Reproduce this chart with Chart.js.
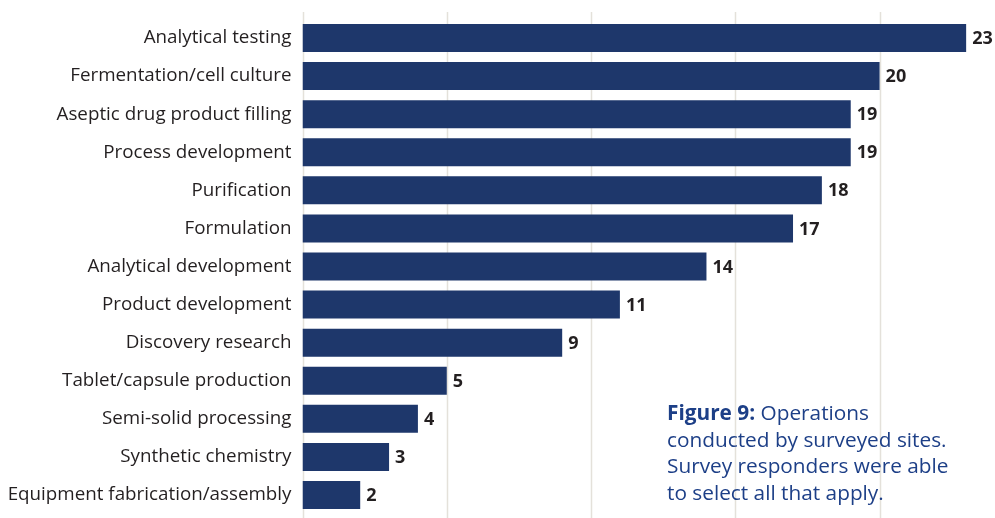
<!DOCTYPE html>
<html>
<head>
<meta charset="utf-8">
<script src="https://cdn.jsdelivr.net/npm/chart.js@4/dist/chart.umd.min.js"></script>
<style>
  html, body { margin: 0; padding: 0; background: #fff; }
  #wrap { position: relative; width: 995px; height: 518px; }
  #caption {
    position: absolute; left: 667px; top: 399px; width: 328px;
    font-family: "Open Sans", "Noto Sans", sans-serif; font-size: 20.8px; line-height: 26.7px;
    color: #1d3f87; white-space: nowrap;
  }
  #caption b { font-weight: 700; }
</style>
</head>
<body>
<div id="wrap">
  <canvas id="c" width="995" height="518"></canvas>
  <div id="caption"><b>Figure 9:</b> Operations<br>conducted by surveyed sites.<br>Survey responders were able<br>to select all that apply.</div>
</div>
<script>
const categories = [
  "Analytical testing",
  "Fermentation/cell culture",
  "Aseptic drug product filling",
  "Process development",
  "Purification",
  "Formulation",
  "Analytical development",
  "Product development",
  "Discovery research",
  "Tablet/capsule production",
  "Semi-solid processing",
  "Synthetic chemistry",
  "Equipment fabrication/assembly"
];
const siteCounts = [23, 20, 19, 19, 18, 17, 14, 11, 9, 5, 4, 3, 2];
const gridValues = [0, 5, 10, 15, 20];

const FONT = '"Open Sans", "Noto Sans", sans-serif';

// Vertical guide lines spanning nearly the full height
const gridPlugin = {
  id: 'fullGrid',
  beforeDatasetsDraw(chart) {
    const ctx = chart.ctx;
    const x = chart.scales.x;
    ctx.save();
    ctx.strokeStyle = '#e4e1da';
    ctx.lineWidth = 1.5;
    gridValues.forEach(v => {
      const px = Math.round(x.getPixelForValue(v)) + 0.5;
      ctx.beginPath();
      ctx.moveTo(px, 12);
      ctx.lineTo(px, chart.height);
      ctx.stroke();
    });
    ctx.restore();
  }
};

// Bold value labels just past the end of each bar
const valuePlugin = {
  id: 'valueLabels',
  afterDatasetsDraw(chart) {
    const ctx = chart.ctx;
    const meta = chart.getDatasetMeta(0);
    ctx.save();
    ctx.font = 'bold 18px ' + FONT;
    ctx.fillStyle = '#231f20';
    ctx.textAlign = 'left';
    ctx.textBaseline = 'middle';
    meta.data.forEach((bar, i) => {
      ctx.fillText(String(siteCounts[i]), bar.x + 6, bar.y + 1);
    });
    ctx.restore();
  }
};

new Chart(document.getElementById('c'), {
  type: 'bar',
  data: {
    labels: categories,
    datasets: [{
      data: siteCounts,
      backgroundColor: '#1e376b',
      borderWidth: 0,
      categoryPercentage: 1,
      barPercentage: 0.735
    }]
  },
  options: {
    indexAxis: 'y',
    responsive: false,
    animation: false,
    layout: { padding: { top: 19, bottom: 4, left: 0, right: 0 } },
    plugins: { legend: { display: false }, tooltip: { enabled: false } },
    scales: {
      x: {
        min: 0, max: 24,
        display: false,
        grid: { display: false }
      },
      y: {
        grid: { display: false, drawTicks: false },
        border: { display: false },
        afterFit(scale) {
          scale.width = 302.5;
          scale.paddingTop = 0;
          scale.paddingBottom = 0;
        },
        ticks: {
          padding: 11,
          color: '#231f20',
          font: { family: FONT, size: 18.8 }
        }
      }
    }
  },
  plugins: [gridPlugin, valuePlugin]
});
</script>
</body>
</html>
